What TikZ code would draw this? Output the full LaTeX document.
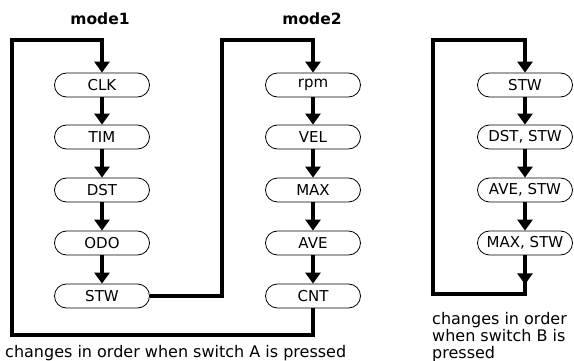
\documentclass[tikz,border=0pt]{standalone}
\usepackage{fontspec}
\setmainfont{DejaVu Sans}
\usetikzlibrary{arrows.meta}
\usetikzlibrary{positioning}

\begin{document}
\begin{tikzpicture}[x=1pt,y=-1pt,
  disp/.style={draw,line width=0.8pt,rounded corners=12pt,minimum width=95pt,
    minimum height=24pt,inner sep=0pt,font=\fontsize{15}{16}\selectfont},
  feed/.style={line width=3.2pt,-{Triangle[width=15pt,length=11pt]}},
  title/.style={font=\fontsize{15.5}{17}\bfseries\selectfont},
  note/.style={font=\fontsize{16}{17}\selectfont,align=left,inner sep=0pt}]
\useasboundingbox (0,0) rectangle (574,361);
% titles
\node[title] (m1) at (100,19) {mode1};
\node[title] (m2) at (312,19) {mode2};
% mode1
\node[disp] (clk) at (102,85) {CLK};
\node[disp] (tim) at (102,137) {TIM};
\node[disp] (dst) at (102,190) {DST};
\node[disp] (odo) at (102,243) {ODO};
\node[disp] (stw) at (102,296) {STW};
% mode2
\node[disp] (rpm) at (313,85) {rpm};
\node[disp] (vel) at (313,137) {VEL};
\node[disp] (max) at (313,190) {MAX};
\node[disp] (ave) at (313,243) {AVE};
\node[disp] (cnt) at (313,296) {CNT};
% switch B
\node[disp] (bstw) at (525,85) {STW};
\node[disp] (bdst) at (525,137) {DST, STW};
\node[disp] (bave) at (525,190) {AVE, STW};
\node[disp] (bmax) at (525,243) {MAX, STW};
% corners
\coordinate (a1) at (12,40);
\coordinate (a2) at (12,335);
\coordinate (a3) at (222,296);
\coordinate (a4) at (222,40);
\coordinate (b1) at (433,40);
\coordinate (b2) at (433,294);
% arrows
\draw[feed] (clk) -- (tim);
\draw[feed] (tim) -- (dst);
\draw[feed] (dst) -- (odo);
\draw[feed] (odo) -- (stw);
\draw[feed] (rpm) -- (vel);
\draw[feed] (vel) -- (max);
\draw[feed] (max) -- (ave);
\draw[feed] (ave) -- (cnt);
\draw[feed] (bstw) -- (bdst);
\draw[feed] (bdst) -- (bave);
\draw[feed] (bave) -- (bmax);
\draw[feed] (cnt.south) -- (cnt.south |- a2) -- (a2) -- (a1) -- (a1 -| clk.north) -- (clk.north);
\draw[feed] (stw.east) -- (a3) -- (a4) -- (a4 -| rpm.north) -- (rpm.north);
\draw[feed] (bmax.south) -- ++(0,29);
\draw[feed] (bmax.south) -- (bmax.south |- b2) -- (b2) -- (b1) -- (b1 -| bstw.north) -- (bstw.north);
% captions
\node[note,anchor=base west] (capa) at (5,357) {changes in order when switch A is pressed};
\node[note,anchor=base west] (capb) at (432,358) {changes in order\\when switch B is\\pressed};
\end{tikzpicture}
\end{document}
